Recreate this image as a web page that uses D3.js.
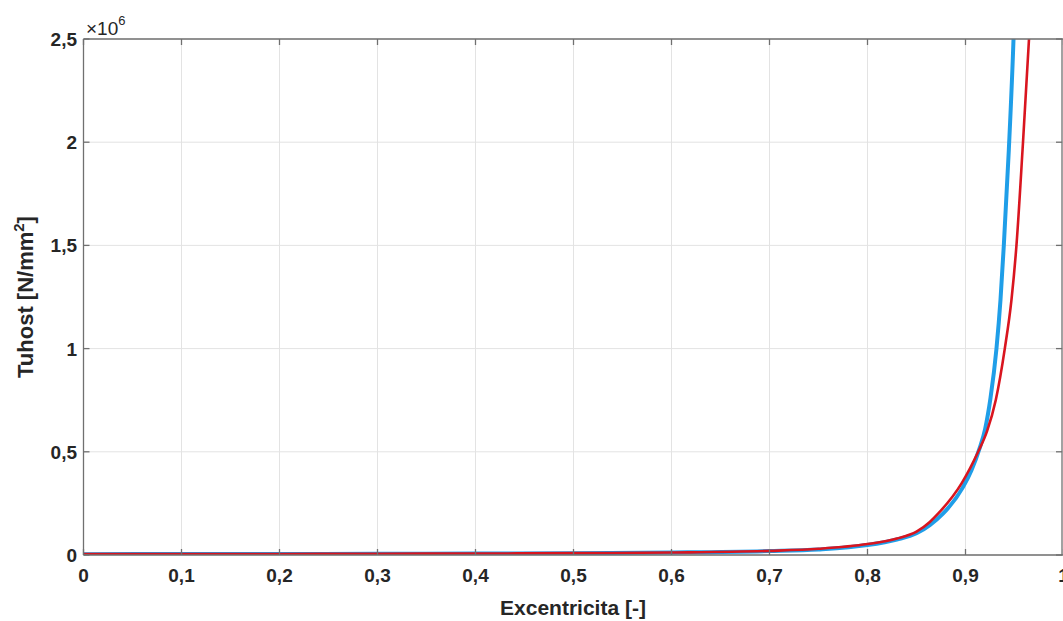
<!DOCTYPE html>
<html><head><meta charset="utf-8">
<script src="https://cdn.jsdelivr.net/npm/d3@7"></script>
<style>
body{margin:0;background:#fff;}
text{font-family:"Liberation Sans",Arial,Helvetica,sans-serif;fill:#262626;}
</style></head>
<body><svg id="c" width="1063" height="621"></svg>
<script>
// Eccentricity values [-] and stiffness [N/mm^2] in units of 1e6
const blueEcc = [0, 0.1, 0.2, 0.3, 0.4, 0.5, 0.6, 0.7, 0.75, 0.8, 0.83, 0.85, 0.8636, 0.877, 0.8976, 0.906, 0.9146, 0.92, 0.9255, 0.9316, 0.9357, 0.9391, 0.9442, 0.949, 0.951];
const blueVal = [0.004, 0.005, 0.005, 0.006, 0.007, 0.009, 0.012, 0.019, 0.027, 0.048, 0.075, 0.105, 0.145, 0.2, 0.33, 0.41, 0.52, 0.61, 0.76, 1.0, 1.236, 1.5, 1.962, 2.5, 2.8];
const redEcc  = [0, 0.1, 0.2, 0.3, 0.4, 0.5, 0.6, 0.7, 0.75, 0.8, 0.83, 0.85, 0.8636, 0.872, 0.896, 0.9129, 0.922, 0.9309, 0.9401, 0.9469, 0.952, 0.9582, 0.9648, 0.968];
const redVal  = [0.004, 0.005, 0.005, 0.006, 0.007, 0.009, 0.012, 0.02, 0.03, 0.053, 0.08, 0.113, 0.16, 0.2, 0.347, 0.5, 0.6, 0.751, 1.0, 1.236, 1.5, 1.962, 2.5, 2.8];
const xTicks = [0, 0.1, 0.2, 0.3, 0.4, 0.5, 0.6, 0.7, 0.8, 0.9, 1];
const yTicks = [0, 0.5, 1, 1.5, 2, 2.5];
const fmt = v => String(v).replace('.', ',');

const svg = d3.select('#c');
const L = 83.5, R = 1063.5, T = 39, B = 555;
const x = d3.scaleLinear().domain([0, 1]).range([L, R]);
const y = d3.scaleLinear().domain([0, 2.5]).range([B, T]);

// grid
const g = svg.append('g');
g.selectAll('.gx').data(xTicks).enter().append('line')
  .attr('x1', d => x(d)).attr('x2', d => x(d)).attr('y1', T).attr('y2', B)
  .attr('stroke', '#e3e3e3').attr('stroke-width', 1);
g.selectAll('.gy').data(yTicks).enter().append('line')
  .attr('x1', L).attr('x2', R).attr('y1', d => y(d)).attr('y2', d => y(d))
  .attr('stroke', '#e3e3e3').attr('stroke-width', 1);

// clip
svg.append('clipPath').attr('id', 'clip').append('rect')
  .attr('x', L).attr('y', T).attr('width', R - L).attr('height', B - T);

const line = d3.line().x(d => x(d[0])).y(d => y(d[1])).curve(d3.curveMonotoneX);
const blue = blueEcc.map((e, i) => [e, blueVal[i]]);
const red = redEcc.map((e, i) => [e, redVal[i]]);
const lg = svg.append('g').attr('clip-path', 'url(#clip)');
lg.append('path').attr('d', line(blue)).attr('fill', 'none').attr('stroke', '#1f9ee8').attr('stroke-width', 4);
lg.append('path').attr('d', line(red)).attr('fill', 'none').attr('stroke', '#d9151f').attr('stroke-width', 2.6);

// axes box
const ax = svg.append('g').attr('stroke', '#707070').attr('stroke-width', 1.3);
ax.append('line').attr('x1', L).attr('x2', L).attr('y1', T).attr('y2', B);
ax.append('line').attr('x1', L).attr('x2', R).attr('y1', B).attr('y2', B);
ax.append('line').attr('x1', L).attr('x2', R).attr('y1', T).attr('y2', T);
ax.append('line').attr('x1', 1062).attr('x2', 1062).attr('y1', T).attr('y2', B);
// inward ticks
const tl = 6;
xTicks.forEach(t => {
  ax.append('line').attr('x1', x(t)).attr('x2', x(t)).attr('y1', B).attr('y2', B - tl);
  ax.append('line').attr('x1', x(t)).attr('x2', x(t)).attr('y1', T).attr('y2', T + tl);
});
yTicks.forEach(t => {
  ax.append('line').attr('x1', L).attr('x2', L + tl).attr('y1', y(t)).attr('y2', y(t));
  ax.append('line').attr('x1', 1062).attr('x2', 1062 - tl).attr('y1', y(t)).attr('y2', y(t));
});

// tick labels
svg.selectAll('.xl').data(xTicks).enter().append('text')
  .attr('x', d => x(d)).attr('y', 582).attr('text-anchor', 'middle')
  .style('font-weight', 'bold').attr('font-size', 19).text(fmt);
svg.selectAll('.yl').data(yTicks).enter().append('text')
  .attr('x', 77).attr('y', d => y(d) + 7).attr('text-anchor', 'end')
  .style('font-weight', 'bold').attr('font-size', 19).text(fmt);

// exponent
const ex = svg.append('text').attr('x', 86).attr('y', 35).attr('font-size', 19).style('font-weight', 'normal');
ex.append('tspan').text('×10');
ex.append('tspan').attr('dy', -10).attr('font-size', 13).text('6');

// axis titles
svg.append('text').attr('x', 573).attr('y', 615).attr('text-anchor', 'middle')
  .style('font-weight', 'bold').attr('font-size', 21).text('Excentricita [-]');
const yt = svg.append('text').attr('transform', 'translate(33,297) rotate(-90)')
  .attr('text-anchor', 'middle').style('font-weight', 'bold').attr('font-size', 22);
yt.append('tspan').text('Tuhost [N/mm');
yt.append('tspan').attr('dy', -9).attr('font-size', 15).text('2');
yt.append('tspan').attr('dy', 9).text(']');
</script></body></html>
